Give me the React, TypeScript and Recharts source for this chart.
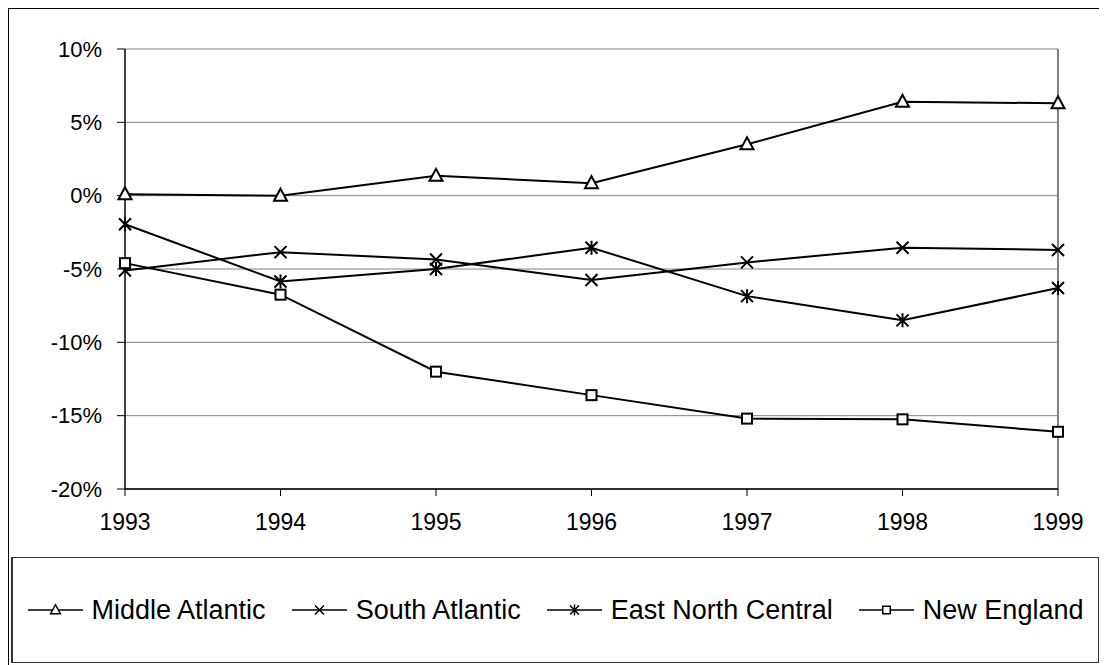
import { LineChart, Line, XAxis, YAxis, CartesianGrid, ReferenceLine } from 'recharts'

const years = ['1993', '1994', '1995', '1996', '1997', '1998', '1999']
const middleAtlantic = [0.1, 0.0, 1.35, 0.85, 3.5, 6.4, 6.3]
const southAtlantic = [-5.1, -3.85, -4.35, -5.75, -4.55, -3.55, -3.7]
const eastNorthCentral = [-1.95, -5.85, -5.0, -3.55, -6.85, -8.5, -6.3]
const newEngland = [-4.6, -6.75, -12.0, -13.6, -15.2, -15.25, -16.1]
const yTicks = [-20, -15, -10, -5, 0, 5, 10]

const data = years.map((year, i) => ({
  year,
  ma: middleAtlantic[i],
  sa: southAtlantic[i],
  enc: eastNorthCentral[i],
  ne: newEngland[i],
}))

type Mark = 'triangle' | 'cross' | 'star' | 'square'

function Marker({ cx, cy, kind, s = 1 }: { cx: number; cy: number; kind: Mark; s?: number }) {
  const sw = 2 * s
  if (kind === 'triangle') {
    return (
      <path
        d={`M${cx},${cy - 7 * s} L${cx + 6.5 * s},${cy + 5 * s} L${cx - 6.5 * s},${cy + 5 * s} Z`}
        fill="#fff"
        stroke="#000"
        strokeWidth={sw}
      />
    )
  }
  if (kind === 'square') {
    const h = 5 * s
    return <rect x={cx - h} y={cy - h} width={2 * h} height={2 * h} fill="#fff" stroke="#000" strokeWidth={sw} />
  }
  const d = 6 * s
  const cross = `M${cx - d},${cy - d} L${cx + d},${cy + d} M${cx - d},${cy + d} L${cx + d},${cy - d}`
  const path = kind === 'star' ? `${cross} M${cx},${cy - d - 1} L${cx},${cy + d + 1}` : cross
  return <path d={path} stroke="#000" strokeWidth={sw} fill="none" />
}

const series: { key: string; name: string; mark: Mark }[] = [
  { key: 'ma', name: 'Middle Atlantic', mark: 'triangle' },
  { key: 'sa', name: 'South Atlantic', mark: 'cross' },
  { key: 'enc', name: 'East North Central', mark: 'star' },
  { key: 'ne', name: 'New England', mark: 'square' },
]

export default function App() {
  return (
    <div
      style={{
        position: 'relative',
        width: 1098,
        height: 656,
        borderTop: '1px solid #000',
        borderLeft: '1px solid #000',
        fontFamily: '"Liberation Sans", Arial, sans-serif',
        background: '#fff',
      }}
    >
      <LineChart
        width={1098}
        height={548}
        data={data}
        margin={{ top: 40, right: 49, left: 36, bottom: 28 }}
      >
        <CartesianGrid vertical={false} stroke="#808080" strokeWidth={1} />
        <ReferenceLine x="1999" stroke="#808080" strokeWidth={2} />
        <XAxis
          dataKey="year"
          interval={0}
          tick={{ fontSize: 23, fill: '#000' }}
          tickSize={7}
          tickMargin={18}
          height={40}
          axisLine={{ stroke: '#000', strokeWidth: 1.5 }}
          tickLine={{ stroke: '#000' }}
        />
        <YAxis
          type="number"
          domain={[-20, 10]}
          ticks={yTicks}
          tickFormatter={(v: number) => `${v}%`}
          tick={{ fontSize: 22, fill: '#000' }}
          tickSize={8}
          tickMargin={15}
          width={80}
          axisLine={{ stroke: '#000', strokeWidth: 1.5 }}
          tickLine={{ stroke: '#000' }}
        />
        {series.map((s) => (
          <Line
            key={s.key}
            dataKey={s.key}
            name={s.name}
            stroke="#000"
            strokeWidth={2}
            isAnimationActive={false}
            dot={(p: any) => <Marker key={`${s.key}-${p.index}`} cx={p.cx} cy={p.cy} kind={s.mark} />}
          />
        ))}
      </LineChart>
      <div
        style={{
          position: 'absolute',
          left: 2,
          top: 548,
          width: 1085,
          height: 104,
          border: '1px solid #333',
          borderLeftWidth: 2,
          display: 'flex',
          alignItems: 'center',
          justifyContent: 'center',
          gap: 26,
          fontSize: 27,
          color: '#000',
        }}
      >
        {series.map((s) => (
          <div key={s.key} style={{ display: 'flex', alignItems: 'center', gap: 9 }}>
            <svg width={55} height={20}>
              <line x1={0} y1={10} x2={55} y2={10} stroke="#000" strokeWidth={1.5} />
              <Marker cx={27.5} cy={10} kind={s.mark} s={0.75} />
            </svg>
            <span style={{ whiteSpace: 'nowrap' }}>{s.name}</span>
          </div>
        ))}
      </div>
    </div>
  )
}
